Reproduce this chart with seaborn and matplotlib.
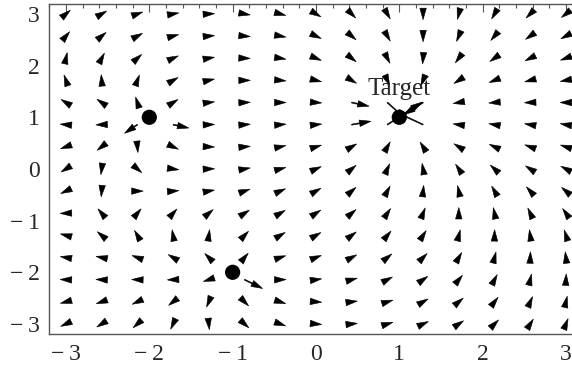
import numpy as np
import pandas as pd
import matplotlib
matplotlib.use("Agg")
import matplotlib.pyplot as plt
import seaborn as sns
from matplotlib.ticker import MultipleLocator

# sample grid of the direction field
grid_x = np.linspace(-3, 3, 15)
grid_y = np.linspace(3, -3, 15)          # rows listed top to bottom

# field direction at every grid point, degrees (rows top -> bottom, columns left -> right)
angle_rows = [
    [40, 30, 20, 10, 3, -10, -15, -30, -45, -60, -90, -105, -120, -135, -142],
    [50, 40, 28, 15, 5, -5, -10, -25, -40, -60, -90, -113, -130, -145, -152],
    [78, 62, 42, 24, 10, -2, -9, -22, -38, -63, -95, -127, -145, -154, -160],
    [110, 95, 70, 30, 13, 0, -5, -14, -31, -66, -113, -147, -158, -165, -169],
    [148, 145, 108, 32, 7, 2, 0, -4, -12, -42, 212, 190, 185, 182, 180],
    [175, 182, 214, -12, 2, 4, 5, 6, 10, 33, 155, 172, 170, 170, 170],
    [200, 218, -85, -25, -2, 5, 12, 17, 30, 60, 122, 148, 155, 160, 162],
    [212, 262, -40, -8, 2, 10, 15, 24, 39, 66, 100, 124, 137, 147, 152],
    [205, 265, 0, 5, 10, 20, 24, 30, 41, 62, 84, 103, 120, 132, 140],
    [182, 130, 50, 48, 40, 33, 30, 33, 40, 56, 68, 90, 102, 115, 125],
    [165, 140, 120, 100, 82, 46, 31, 30, 37, 50, 57, 75, 89, 98, 108],
    [170, 168, 160, 149, 135, 50, 18, 21, 28, 39, 45, 60, 75, 88, 97],
    [178, 177, 178, 182, 198, -26, 1, 8, 15, 28, 35, 50, 62, 76, 87],
    [195, 200, 205, 218, 247, -45, -18, -4, 7, 17, 30, 40, 52, 66, 77],
    [205, 212, 222, 245, 276, -42, -20, -5, 6, 17, 25, 34, 45, 57, 68],
]

# field strength (in arrowhead lengths) where it exceeds one head length
strong_points = [(-2.143, 0.857), (-1.714, 0.857), (0.429, 1.286), (0.429, 0.857),
                 (0.857, 1.286), (1.286, 0.857), (1.286, 1.286), (0.857, 0.857),
                 (-0.857, -2.143)]
strong_values = [1.35, 1.4, 1.55, 1.7, 2.2, 2.7, 2.0, 3.6, 1.75]

# goal and obstacles
goal = (1.0, 1.0)
goal_label = "Target"
obstacle_x = [-2.0, -1.0]
obstacle_y = [1.0, -2.0]

tick_values = [-3, -2, -1, 0, 1, 2, 3]

# ---- assemble the field table ----
gx, gy = np.meshgrid(grid_x, grid_y)
field = pd.DataFrame({
    "x": gx.ravel(),
    "y": gy.ravel(),
    "angle": np.array(angle_rows, dtype=float).ravel(),
})
field["strength"] = 1.0
for (px, py), s in zip(strong_points, strong_values):
    hit = (np.abs(field["x"] - px) < 0.01) & (np.abs(field["y"] - py) < 0.01)
    field.loc[hit, "strength"] = s
field["u"] = field["strength"] * np.cos(np.deg2rad(field["angle"]))
field["v"] = field["strength"] * np.sin(np.deg2rad(field["angle"]))

sns.set_style("white")
plt.rcParams["font.family"] = ["Liberation Serif", "DejaVu Serif"]

fig = plt.figure(figsize=(5.72, 3.69), dpi=100)
ax = fig.add_axes([49.3 / 572, (369 - 334.3) / 369, 533.3 / 572, 330.7 / 369])
ax.set_xlim(-3.2, 3.2)
ax.set_ylim(-3.2, 3.2)

head_len = 11.5
arrow_style = dict(angles="uv", units="dots", scale_units="dots", scale=1.0 / head_len,
                   width=1.0, headwidth=6.5, headlength=head_len, headaxislength=head_len,
                   minshaft=1, color="black", edgecolor="black", linewidth=0.4, zorder=3)
heads = field[field["strength"] <= 1.0]
shafts = field[field["strength"] > 1.0]
ax.quiver(heads["x"], heads["y"], heads["u"], heads["v"], pivot="mid", **arrow_style)
ax.quiver(shafts["x"], shafts["y"], shafts["u"], shafts["v"], pivot="tail", **arrow_style)

markers = pd.DataFrame({"x": obstacle_x + [goal[0]], "y": obstacle_y + [goal[1]]})
sns.scatterplot(data=markers, x="x", y="y", ax=ax, s=120, color="black",
                edgecolor="none", zorder=5, legend=False)
ax.text(goal[0], goal[1] + 0.43, goal_label, ha="center", va="baseline",
        fontsize=18, zorder=6)

frame_color = "#555555"
for side in ax.spines.values():
    side.set_color(frame_color)
    side.set_linewidth(1.0)
ax.xaxis.set_minor_locator(MultipleLocator(0.2))
ax.yaxis.set_minor_locator(MultipleLocator(0.2))
ax.set_xticks(tick_values)
ax.set_yticks(tick_values)
labels = [("\u2212\u2009" + str(-t)) if t < 0 else str(t) for t in tick_values]
ax.set_xticklabels(labels)
ax.set_yticklabels(labels)
ax.tick_params(which="both", direction="in", top=True, right=True,
               color=frame_color, width=0.8)
ax.tick_params(which="major", length=6, labelsize=17, pad=7)
ax.tick_params(which="minor", length=3)
ax.set_xlabel("")
ax.set_ylabel("")

fig.savefig("out.png", dpi=100)
